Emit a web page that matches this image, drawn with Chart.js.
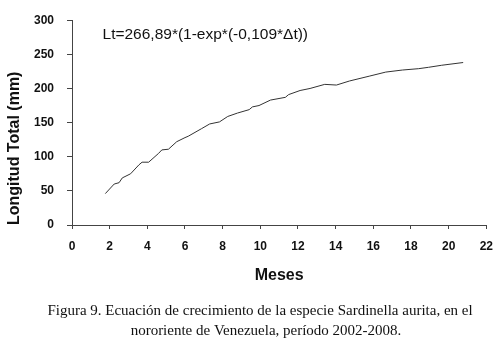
<!DOCTYPE html>
<html>
<head>
<meta charset="utf-8">
<script src="https://cdn.jsdelivr.net/npm/chart.js@4"></script>
<style>
  body { margin: 0; background: #fff; }
  #wrap { width: 503px; height: 348px; }
</style>
</head>
<body>
<div id="wrap"><canvas id="growth" width="503" height="348"></canvas></div>
<script>
// values (months vs total length in mm)
const MONTHS = [1.77, 2.24, 2.50, 2.67, 3.11, 3.55, 3.72, 4.07, 4.60, 4.77, 5.12, 5.56, 6.00, 6.17, 6.87, 7.31,
                7.83, 8.27, 8.79, 9.41, 9.58, 9.93, 10.54, 11.33, 11.50, 12.11, 12.64, 13.42, 14.04, 14.74,
                15.78, 16.66, 17.54, 18.41, 18.93, 19.63, 20.77];
const LENGTHS = [46, 60, 62, 69, 75, 88, 92, 92, 105, 110, 111, 122, 128, 130, 141, 148,
                 151, 159, 164, 169, 173, 175, 183, 187, 191, 197, 200, 206, 205, 211,
                 218, 224, 227, 229, 231, 234, 238];
const EQUATION = 'Lt=266,89*(1-exp*(-0,109*\u0394t))';
const CAPTION = [
    'Figura 9. Ecuaci\u00f3n de crecimiento de la especie Sardinella aurita, en el',
    'nororiente de Venezuela, per\u00edodo 2002-2008.'
];

const SANS = "'Liberation Sans', Arial, sans-serif";
const SERIF = "'Liberation Serif', 'Times New Roman', serif";

const points = MONTHS.map((m, i) => ({ x: m, y: LENGTHS[i] }));

const textPlugin = {
    id: 'textPlugin',
    afterDraw(chart) {
        const ctx = chart.ctx;
        const xs = chart.scales.x;
        const ys = chart.scales.y;
        ctx.save();
        // equation inside the plot
        ctx.fillStyle = '#111';
        ctx.font = '15.5px ' + SANS;
        ctx.textAlign = 'left';
        ctx.textBaseline = 'middle';
        ctx.fillText(EQUATION, xs.getPixelForValue(1.62), ys.getPixelForValue(278));
        // figure caption
        ctx.font = '15px ' + SERIF;
        ctx.textAlign = 'center';
        ctx.fillText(CAPTION[0], 260, 311);
        ctx.fillText(CAPTION[1], 266, 331);
        ctx.restore();
    }
};

new Chart(document.getElementById('growth'), {
    type: 'line',
    data: {
        datasets: [{
            label: 'Longitud',
            data: points,
            borderColor: '#333',
            borderWidth: 1,
            pointRadius: 0,
            tension: 0,
            fill: false
        }]
    },
    options: {
        responsive: false,
        animation: false,
        layout: { padding: { top: 15, right: 11, bottom: 0, left: 0 } },
        plugins: {
            legend: { display: false },
            title: { display: false },
            tooltip: { enabled: false }
        },
        scales: {
            x: {
                type: 'linear',
                min: 0,
                max: 22,
                afterFit: (s) => { s.height = 123; },
                border: { color: '#444', width: 1 },
                grid: { drawOnChartArea: false, tickLength: 4, color: '#444' },
                ticks: {
                    stepSize: 2,
                    padding: 10,
                    color: '#111',
                    font: { family: SANS, size: 12, weight: 'bold' }
                },
                title: {
                    display: true,
                    text: 'Meses',
                    color: '#111',
                    font: { family: SANS, size: 16, weight: 'bold' },
                    padding: { top: 0, bottom: 63 }
                }
            },
            y: {
                min: 0,
                max: 300,
                afterFit: (s) => { s.width = 72; },
                border: { color: '#444', width: 1 },
                grid: { drawOnChartArea: false, tickLength: 5, color: '#444' },
                ticks: {
                    stepSize: 50,
                    padding: 13,
                    color: '#111',
                    font: { family: SANS, size: 12, weight: 'bold' }
                },
                title: {
                    display: true,
                    text: 'Longitud Total (mm)',
                    align: 'start',
                    color: '#111',
                    font: { family: SANS, size: 16, weight: 'bold' },
                    padding: { top: 5, bottom: 0 }
                }
            }
        }
    },
    plugins: [textPlugin]
});
</script>
</body>
</html>
